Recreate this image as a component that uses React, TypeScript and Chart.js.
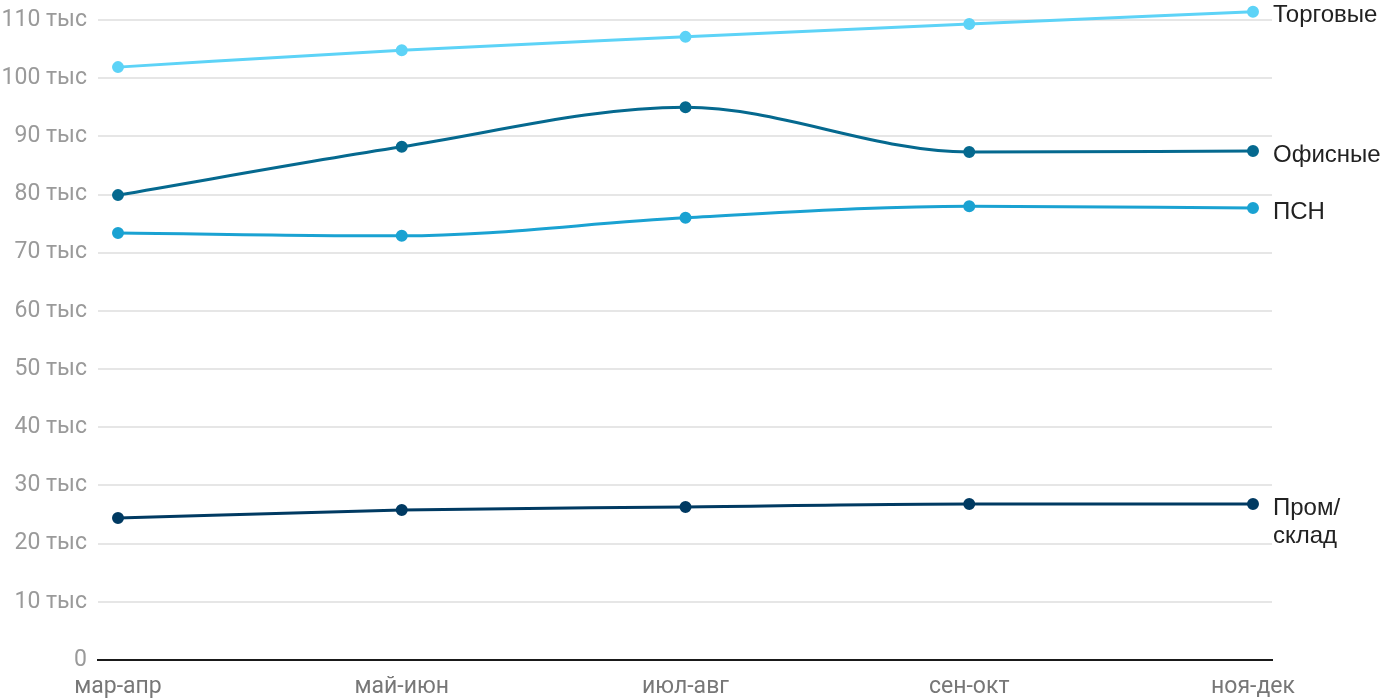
import React, { useEffect, useRef } from "react";
import { Chart, registerables } from "chart.js";

Chart.register(...registerables);

const categories = ["мар-апр", "май-июн", "июл-авг", "сен-окт", "ноя-дек"];
const seriesNames = ["Торговые", "Офисные", "ПСН", "Пром/\nсклад"];
const torgovye = [101.9, 104.8, 107.1, 109.3, 111.4];
const ofisnye = [79.9, 88.2, 95.0, 87.3, 87.5];
const psn = [73.4, 72.9, 76.0, 78.0, 77.7];
const prom = [24.4, 25.8, 26.3, 26.8, 26.8];
const seriesColors = ["#5dd3f7", "#05698f", "#1aa2d2", "#003a62"];
const yTicks = [0, 10, 20, 30, 40, 50, 60, 70, 80, 90, 100, 110];

const toPoints = (arr: number[]) => arr.map((v, i) => ({ x: i, y: v }));

export default function App() {
  const ref = useRef<HTMLCanvasElement | null>(null);
  useEffect(() => {
    if (!ref.current) return;
    const all = [torgovye, ofisnye, psn, prom];
    const labelPlugin = {
      id: "endLabels",
      afterDatasetsDraw(chart: any) {
        const ctx = chart.ctx;
        ctx.save();
        ctx.font = "24px 'Liberation Sans', Arial, sans-serif";
        ctx.fillStyle = "#222";
        ctx.textAlign = "left";
        ctx.textBaseline = "middle";
        chart.data.datasets.forEach((ds: any, i: number) => {
          const meta = chart.getDatasetMeta(i);
          const pt = meta.data[meta.data.length - 1];
          const lines = seriesNames[i].split("\n");
          lines.forEach((ln, j) => {
            ctx.fillText(ln, chart.chartArea.right + 1, pt.y + 4 + j * 28);
          });
        });
        ctx.restore();
      },
    };
    const chart = new Chart(ref.current, {
      type: "line",
      data: {
        datasets: all.map((arr, i) => ({
          label: seriesNames[i],
          data: toPoints(arr),
          borderColor: seriesColors[i],
          backgroundColor: seriesColors[i],
          borderWidth: 3,
          pointRadius: 4.5,
          pointHoverRadius: 4.5,
          cubicInterpolationMode: "monotone" as const,
          fill: false,
          clip: false as any,
        })),
      },
      options: {
        animation: false,
        responsive: true,
        maintainAspectRatio: false,
        layout: { padding: { top: 8.36, right: 128, left: 0, bottom: 0 } },
        plugins: { legend: { display: false }, tooltip: { enabled: false } },
        scales: {
          x: {
            type: "linear",
            min: -0.0705,
            max: 4.067,
            afterBuildTicks: (scale: any) => {
              scale.ticks = categories.map((_, i) => ({ value: i }));
            },
            afterFit: (scale: any) => {
              scale.height = 40;
              scale.paddingLeft = 0;
              scale.paddingRight = 0;
            },
            grid: { display: false, drawTicks: false },
            border: { display: true, color: "#1a1a1a", width: 2 },
            ticks: {
              autoSkip: false,
              maxRotation: 0,
              padding: 13,
              color: "#777",
              font: { family: "Roboto", size: 23 },
              callback: (v: any) => categories[Math.round(Number(v))] ?? "",
            },
          },
          y: {
            type: "linear",
            min: 0,
            max: 112,
            afterBuildTicks: (scale: any) => {
              scale.ticks = yTicks.map((v) => ({ value: v }));
            },
            afterFit: (scale: any) => {
              scale.width = 98;
              scale.paddingTop = 0;
              scale.paddingBottom = 0;
            },
            grid: {
              drawTicks: false,
              lineWidth: 2,
              color: (ctx: any) => (ctx.tick && ctx.tick.value === 0 ? "rgba(0,0,0,0)" : "#e6e6e6"),
            },
            border: { display: false },
            ticks: {
              padding: 11,
              color: "#9a9a9a",
              font: { family: "Roboto", size: 23 },
              callback: (v: any) => (Number(v) === 0 ? "0" : `${v} тыс`),
            },
          },
        },
      },
      plugins: [labelPlugin],
    } as any);
    return () => chart.destroy();
  }, []);
  return (
    <div style={{ position: "fixed", left: 0, top: 0, width: 1400, height: 700, background: "#fff" }}>
      <canvas ref={ref} />
    </div>
  );
}
